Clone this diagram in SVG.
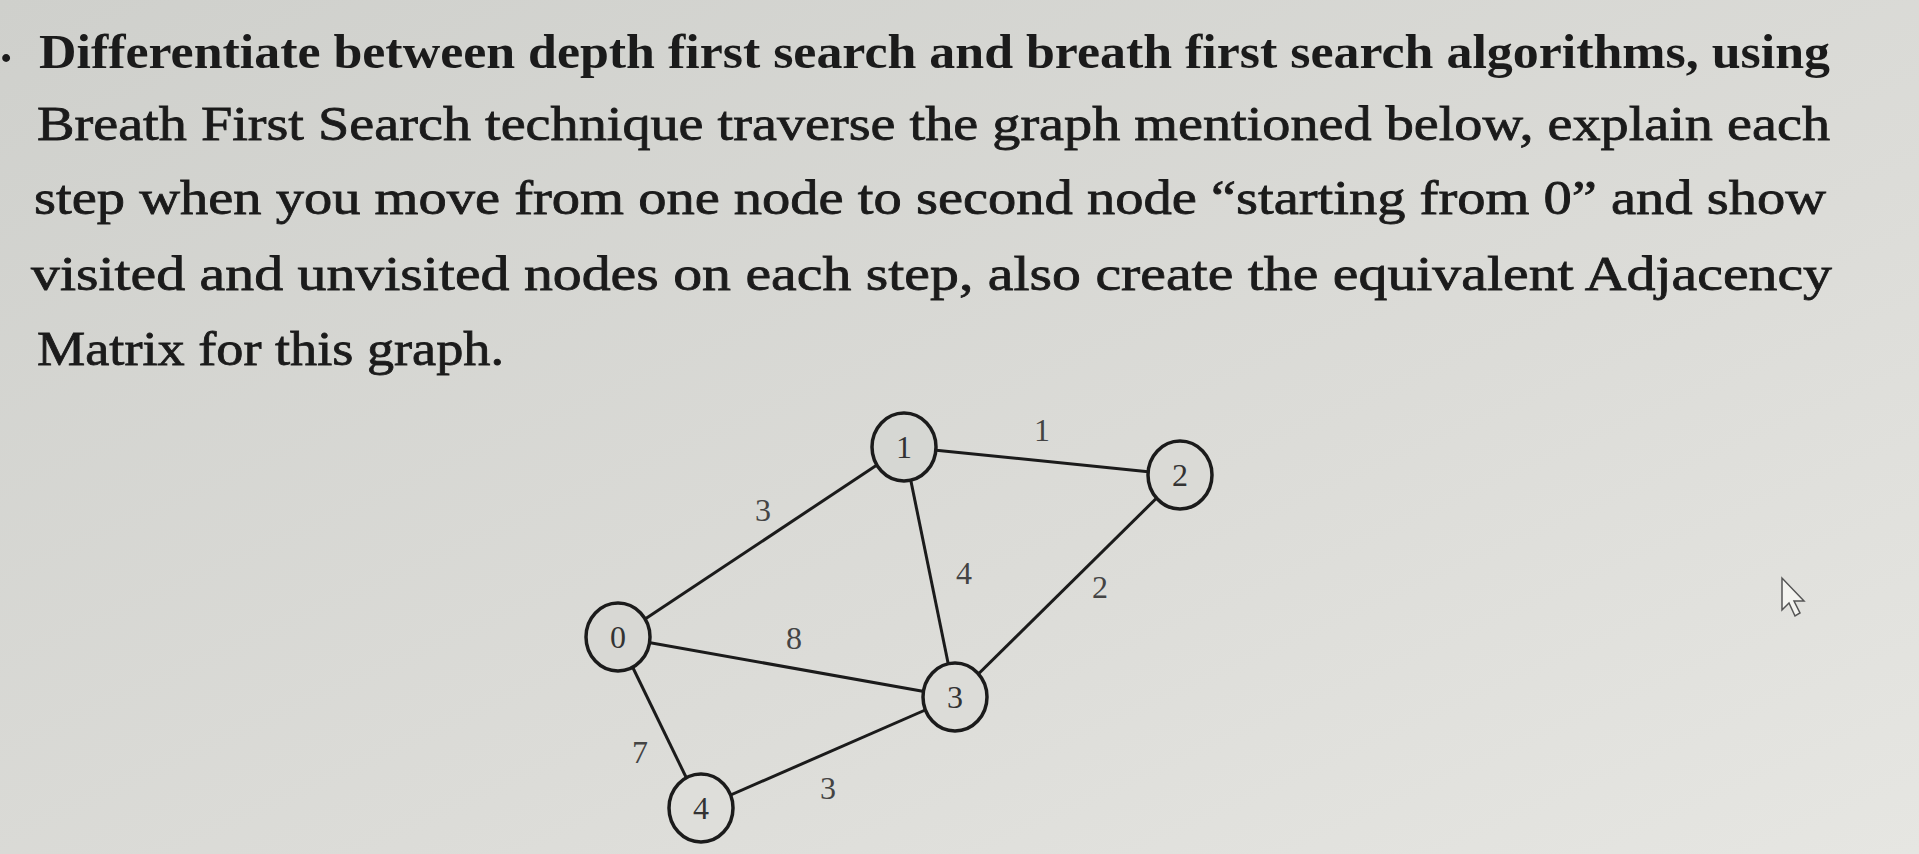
<svg xmlns="http://www.w3.org/2000/svg" width="1919" height="854" viewBox="0 0 1919 854">
<defs>
<linearGradient id="bg" x1="0" y1="0" x2="1" y2="1">
<stop offset="0" stop-color="#cfd0cc"/><stop offset="0.6" stop-color="#dcdcd8"/><stop offset="1" stop-color="#e6e6e2"/>
</linearGradient>
<style>
.t{font-family:"Liberation Serif",serif;font-size:49px;fill:#1b1b1b;stroke:#1b1b1b;stroke-width:0.8}
.b{font-weight:bold;stroke-width:0}
.e{stroke:#1b1b1b;stroke-width:3;fill:none}
.n{fill:none;stroke:#1b1b1b;stroke-width:3.5}
.nl{font-family:"Liberation Serif",serif;font-size:32px;fill:#333;text-anchor:middle;dominant-baseline:central}
.w{font-family:"Liberation Serif",serif;font-size:32px;fill:#444;text-anchor:middle;dominant-baseline:central}
</style>
</defs>
<rect width="1919" height="854" fill="url(#bg)"/>
<g id="question">
<text class="t b" x="0" y="62">.</text>
<text class="t b" x="39" y="68" textLength="1791" lengthAdjust="spacingAndGlyphs">Differentiate between depth first search and breath first search algorithms, using</text>
<text class="t" x="37" y="140" textLength="1793" lengthAdjust="spacingAndGlyphs">Breath First Search technique traverse the graph mentioned below, explain each</text>
<text class="t" x="34" y="214" textLength="1792" lengthAdjust="spacingAndGlyphs">step when you move from one node to second node “starting from 0” and show</text>
<text class="t" x="31" y="290" textLength="1801" lengthAdjust="spacingAndGlyphs">visited and unvisited nodes on each step, also create the equivalent Adjacency</text>
<text class="t" x="37" y="365" textLength="467" lengthAdjust="spacingAndGlyphs">Matrix for this graph.</text>
</g>
<g id="edges">
<line class="e" x1="618" y1="637" x2="904" y2="447"/>
<line class="e" x1="904" y1="447" x2="1180" y2="475"/>
<line class="e" x1="904" y1="447" x2="955" y2="697"/>
<line class="e" x1="1180" y1="475" x2="955" y2="697"/>
<line class="e" x1="618" y1="637" x2="955" y2="697"/>
<line class="e" x1="618" y1="637" x2="701" y2="808"/>
<line class="e" x1="701" y1="808" x2="955" y2="697"/>
<text class="w" x="1042" y="430">1</text>
<text class="w" x="763" y="510">3</text>
<text class="w" x="964" y="573">4</text>
<text class="w" x="1100" y="587">2</text>
<text class="w" x="794" y="638">8</text>
<text class="w" x="640" y="752">7</text>
<text class="w" x="828" y="788">3</text>
</g>
<g id="node0"><ellipse class="n" cx="618" cy="637" rx="32" ry="34" style="fill:#d8d8d4"/><text class="nl" x="618" y="637">0</text></g>
<g id="node1"><ellipse class="n" cx="904" cy="447" rx="32" ry="34" style="fill:#d6d7d3"/><text class="nl" x="904" y="447">1</text></g>
<g id="node2"><ellipse class="n" cx="1180" cy="475" rx="32" ry="34" style="fill:#dadad6"/><text class="nl" x="1180" y="475">2</text></g>
<g id="node3"><ellipse class="n" cx="955" cy="697" rx="32" ry="34" style="fill:#dcdcd8"/><text class="nl" x="955" y="697">3</text></g>
<g id="node4"><ellipse class="n" cx="701" cy="808" rx="32" ry="34" style="fill:#dededa"/><text class="nl" x="701" y="808">4</text></g>
<g id="cursor"><path d="M1782 578 L1782 610 L1789 603 L1795 616 L1800 613 L1794 601 L1804 601 Z" fill="#f4f4f0" stroke="#555" stroke-width="1.5"/></g>
</svg>
